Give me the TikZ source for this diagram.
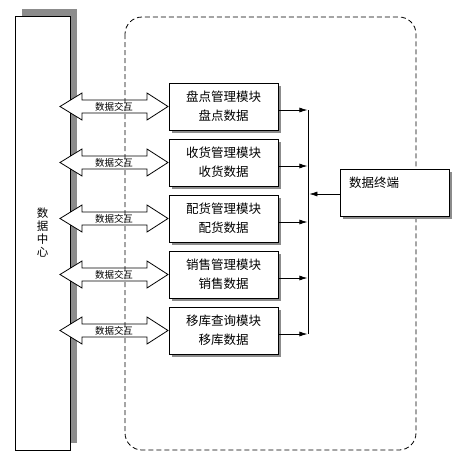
\documentclass[tikz,border=0pt]{standalone}
\usepackage{fontspec}
\setmainfont{Noto Sans CJK SC}
\usetikzlibrary{shadows,arrows.meta,calc}
\tikzset{
  modbox/.style={draw, fill=white, line width=0.8pt, minimum width=109pt, minimum height=47pt,
    align=center, font=\fontsize{12.5}{19}\selectfont, inner sep=0pt,
    drop shadow={shadow xshift=3pt, shadow yshift=-3pt, fill=gray!90, opacity=1}},
  dcbox/.style={draw, fill=white, line width=0.8pt, minimum width=55pt, minimum height=434pt,
    align=center, font=\fontsize{11.5}{13}\selectfont, inner sep=0pt,
    drop shadow={shadow xshift=7pt, shadow yshift=7pt, fill=gray!90, opacity=1}},
  dblarrow/.style={draw, fill=white, line width=0.8pt},
  arrlabel/.style={font=\fontsize{9.5}{10}\selectfont, inner sep=0pt},
  conn/.style={line width=0.7pt, -{Latex[length=8pt,width=5pt]}},
  frame/.style={draw, line width=0.8pt, dash pattern=on 5pt off 3pt, rounded corners=17pt}
}
\begin{document}
\begin{tikzpicture}[x=1pt,y=-1pt]
\useasboundingbox (0,0) rectangle (464,464);
\fill[white] (0,0) rectangle (464,464);
% data center
\node[dcbox] (dc) at (42.5,233) {数\\据\\中\\心};
% double arrows
\foreach \i/\yc in {1/106.5,2/162.5,3/218.5,4/274.5,5/330.5}{
  \draw[dblarrow] (60,\yc) -- (82,\yc-13.5) -- (82,\yc-6.5) -- (147,\yc-6.5) -- (147,\yc-13.5)
    -- (168,\yc) -- (147,\yc+13.5) -- (147,\yc+6.5) -- (82,\yc+6.5) -- (82,\yc+13.5) -- cycle;
  \node[arrlabel] (lab\i) at (114,\yc) {数据交互};
}
% dashed frame
\draw[frame] (125,17) rectangle (416,450);
% modules
\node[modbox] (m1) at (223.5,106.5) {盘点管理模块\\盘点数据};
\node[modbox] (m2) at (223.5,162.5) {收货管理模块\\收货数据};
\node[modbox] (m3) at (223.5,218.5) {配货管理模块\\配货数据};
\node[modbox] (m4) at (223.5,274.5) {销售管理模块\\销售数据};
\node[modbox] (m5) at (223.5,330.5) {移库查询模块\\移库数据};
% terminal
\node[modbox] (term) at (394.5,192.5) {};
\node[font=\fontsize{12.5}{14}\selectfont, anchor=west, inner sep=0pt] (termtext) at (349,183) {数据终端};
% bus
\foreach \i in {1,...,5}{
  \coordinate (b\i) at ($(m\i.east)+(30,3.5)$);
  \draw[conn] ($(m\i.east)+(0,3.5)$) -- ($(b\i)+(-1,0)$);
}
\draw[line width=0.7pt] (b1) -- (b5);
\coordinate (bt) at (b1 |- 0,194);
\draw[conn] ($(term.west)+(0,1.5)$) -- ($(bt)+(1,0)$);
\end{tikzpicture}
\end{document}
